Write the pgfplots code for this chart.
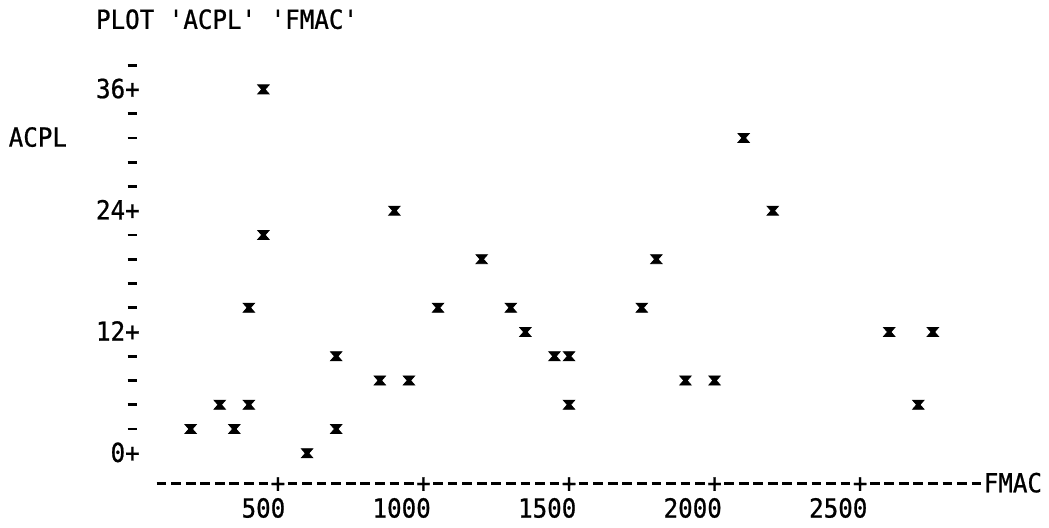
\documentclass[border=0pt]{standalone}
\usepackage{pgfplots}
\pgfplotsset{compat=1.18}
\usepackage{fontspec}
% line-printer look: one character cell = 7.2pt wide, one line = 12pt
\setmonofont[FakeStretch=0.92,FakeBold=0.8]{DejaVu Sans Mono}
% printer dash, one character cell wide
\newcommand{\D}{\makebox[7.2pt]{\rule[3.6pt]{4.8pt}{1.4pt}}}
\newcommand{\Dfour}{\D\D\D\D}

% overstruck "x" symbol used by the printer plot
\pgfdeclareplotmark{hourglass}{%
  \pgfpathmoveto{\pgfpoint{-\pgfplotmarksize}{0.8\pgfplotmarksize}}%
  \pgfpathlineto{\pgfpoint{\pgfplotmarksize}{0.8\pgfplotmarksize}}%
  \pgfpathlineto{\pgfpoint{0.3\pgfplotmarksize}{0pt}}%
  \pgfpathlineto{\pgfpoint{\pgfplotmarksize}{-0.8\pgfplotmarksize}}%
  \pgfpathlineto{\pgfpoint{-\pgfplotmarksize}{-0.8\pgfplotmarksize}}%
  \pgfpathlineto{\pgfpoint{-0.3\pgfplotmarksize}{0pt}}%
  \pgfpathclose
  \pgfusepathqfillstroke
}

\pgfplotstableread{
fmac acpl
200  2.4
300  4.8
350  2.4
400  14.4
400  4.8
450  36
450  21.6
600  0
700  2.4
700  9.6
850  7.2
900  24
950  7.2
1050 14.4
1200 19.2
1300 14.4
1350 12
1450 9.6
1500 9.6
1500 4.8
1750 14.4
1800 19.2
1900 7.2
2000 7.2
2100 31.2
2200 24
2600 12
2700 4.8
2750 12
}\acpldata

\begin{document}
\begin{tikzpicture}[tw/.style={font=\fontsize{13}{12}\selectfont\ttfamily,inner sep=0pt,outer sep=0pt}]
\begin{axis}[
  x=0.144pt, y=5pt,
  xmin=-455, xmax=3149, ymin=-7.38, ymax=44.85,
  hide axis, clip=false,
]
\path (rel axis cs:0,0) rectangle (rel axis cs:1,1);

\addplot[only marks, mark=hourglass, mark size=2.8pt, black, line width=0.4pt]
  table[x=fmac, y=acpl] {\acpldata};

% title and variable name
\node[tw, anchor=base west] at (axis cs:-125,42.0) {PLOT 'ACPL' 'FMAC'};
\node[tw, anchor=base west] at (axis cs:-425,30.34) {ACPL};

% vertical scale, one line per 2.4 units
\node[tw, anchor=base east] at (axis cs:25,37.54) {\D};
\node[tw, anchor=base east] at (axis cs:25,35.14) {36+};
\node[tw, anchor=base east] at (axis cs:25,32.74) {\D};
\node[tw, anchor=base east] at (axis cs:25,30.34) {\D};
\node[tw, anchor=base east] at (axis cs:25,27.94) {\D};
\node[tw, anchor=base east] at (axis cs:25,25.54) {\D};
\node[tw, anchor=base east] at (axis cs:25,23.14) {24+};
\node[tw, anchor=base east] at (axis cs:25,20.74) {\D};
\node[tw, anchor=base east] at (axis cs:25,18.34) {\D};
\node[tw, anchor=base east] at (axis cs:25,15.94) {\D};
\node[tw, anchor=base east] at (axis cs:25,13.54) {\D};
\node[tw, anchor=base east] at (axis cs:25,11.14) {12+};
\node[tw, anchor=base east] at (axis cs:25,8.74) {\D};
\node[tw, anchor=base east] at (axis cs:25,6.34) {\D};
\node[tw, anchor=base east] at (axis cs:25,3.94) {\D};
\node[tw, anchor=base east] at (axis cs:25,1.54) {\D};
\node[tw, anchor=base east] at (axis cs:25,-0.86) {0+};

% horizontal scale, one column per 50 units
\node[tw, anchor=base west] at (axis cs:75,-3.86)
  {\Dfour\Dfour+\Dfour\Dfour\D+\Dfour\Dfour\D+\Dfour\Dfour\D+\Dfour\Dfour\D+\Dfour\Dfour FMAC};
\node[tw, anchor=base east] at (axis cs:525,-6.36) {500};
\node[tw, anchor=base east] at (axis cs:1025,-6.36) {1000};
\node[tw, anchor=base east] at (axis cs:1525,-6.36) {1500};
\node[tw, anchor=base east] at (axis cs:2025,-6.36) {2000};
\node[tw, anchor=base east] at (axis cs:2525,-6.36) {2500};
\end{axis}
\end{tikzpicture}
\end{document}
